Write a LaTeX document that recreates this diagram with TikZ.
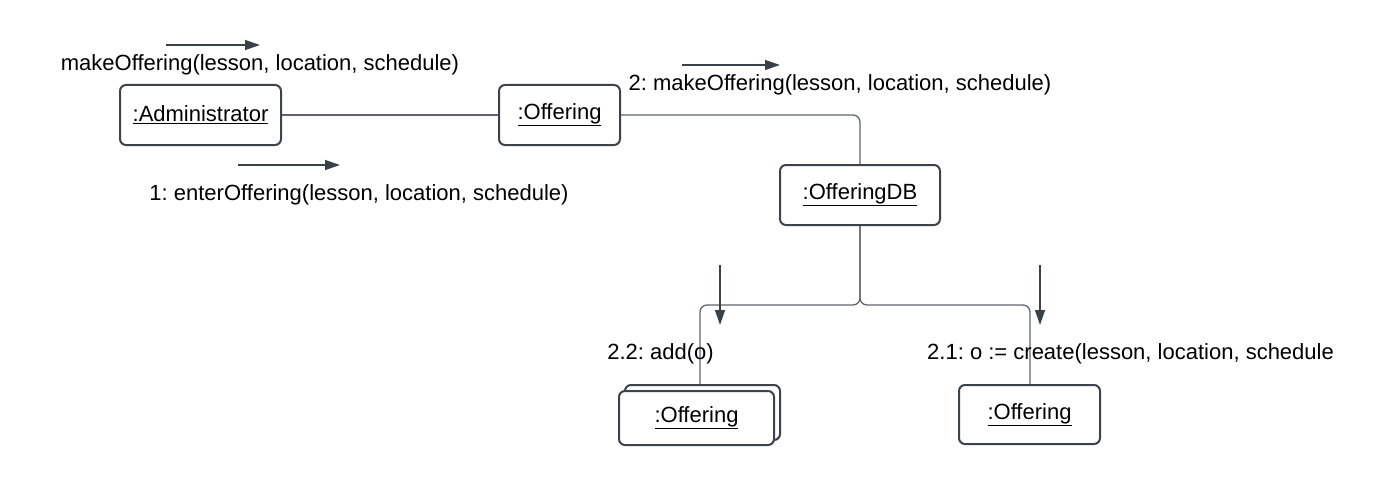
\documentclass[tikz,border=0pt]{standalone}
\usepackage{fontspec}
\setmainfont{Liberation Sans}
\usetikzlibrary{arrows.meta}
\frenchspacing
\definecolor{boxc}{HTML}{3D434C}
\definecolor{linec}{HTML}{60656C}
\definecolor{arrc}{HTML}{3A414A}
\tikzset{
  obj/.style={draw=boxc, line width=2pt, rounded corners=6pt, fill=white, inner sep=0pt, font=\fontsize{22}{26}\selectfont},
  link/.style={draw=linec, line width=1.3pt, rounded corners=7pt},
  msgarrow/.style={draw=arrc, line width=1.3pt, -{Triangle[length=15pt,width=10pt]}},
  msg/.style={font=\fontsize{22}{26}\selectfont, inner sep=0pt, text=black}
}
\begin{document}
\begin{tikzpicture}[x=1pt,y=-1pt]
\useasboundingbox (0,0) rectangle (1380,492);
% objects
\node[obj, minimum width=161pt, minimum height=60pt] (admin) at (200.5,115) {\underline{:Administrator}};
\node[obj, minimum width=121pt, minimum height=60pt] (off1) at (559.5,115) {\underline{:Offering}};
\node[obj, minimum width=160pt, minimum height=60pt] (db) at (860,195) {\underline{:OfferingDB}};
\node[obj, minimum width=155pt, minimum height=55pt] (off2back) at (702.5,412.5) {};
\node[obj, minimum width=155pt, minimum height=54pt] (off2) at (696.5,418) {\underline{:Offering}};
\node[obj, minimum width=141pt, minimum height=59pt] (off3) at (1029.5,414.5) {\underline{:Offering}};
% links
\draw[link] (admin.east) -- (off1.west);
\draw[link] (off1.east) -- (860,115) -- (db.north);
\draw[link] (db.south) -- (860,305) -- (700,305) -- (off2back.north -| 700,0);
\draw[link] (db.south) -- (860,305) -- (1030,305) -- (off3.north -| 1030,0);
% messages
\node[msg] (m0) at (260,65) {makeOffering(lesson, location, schedule)};
\coordinate (m0a) at (166,45);
\coordinate (m0b) at (260,45);
\draw[msgarrow] (m0a) -- (m0b);
\node[msg] (m1) at (359,195) {1: enterOffering(lesson, location, schedule)};
\coordinate (m1a) at (238,165);
\coordinate (m1b) at (340,165);
\draw[msgarrow] (m1a) -- (m1b);
\node[msg] (m2) at (840,85) {2: makeOffering(lesson, location, schedule)};
\coordinate (m2a) at (682,65);
\coordinate (m2b) at (780,65);
\draw[msgarrow] (m2a) -- (m2b);
\node[msg] (m22) at (660.5,354) {2.2: add(o)};
\coordinate (m22a) at (720,265);
\coordinate (m22b) at (720,325);
\draw[msgarrow] (m22a) -- (m22b);
\node[msg, anchor=west] (m21) at (927,354) {2.1: o := create(lesson, location, schedule};
\coordinate (m21a) at (1040,265);
\coordinate (m21b) at (1040,325);
\draw[msgarrow] (m21a) -- (m21b);
\end{tikzpicture}
\end{document}
